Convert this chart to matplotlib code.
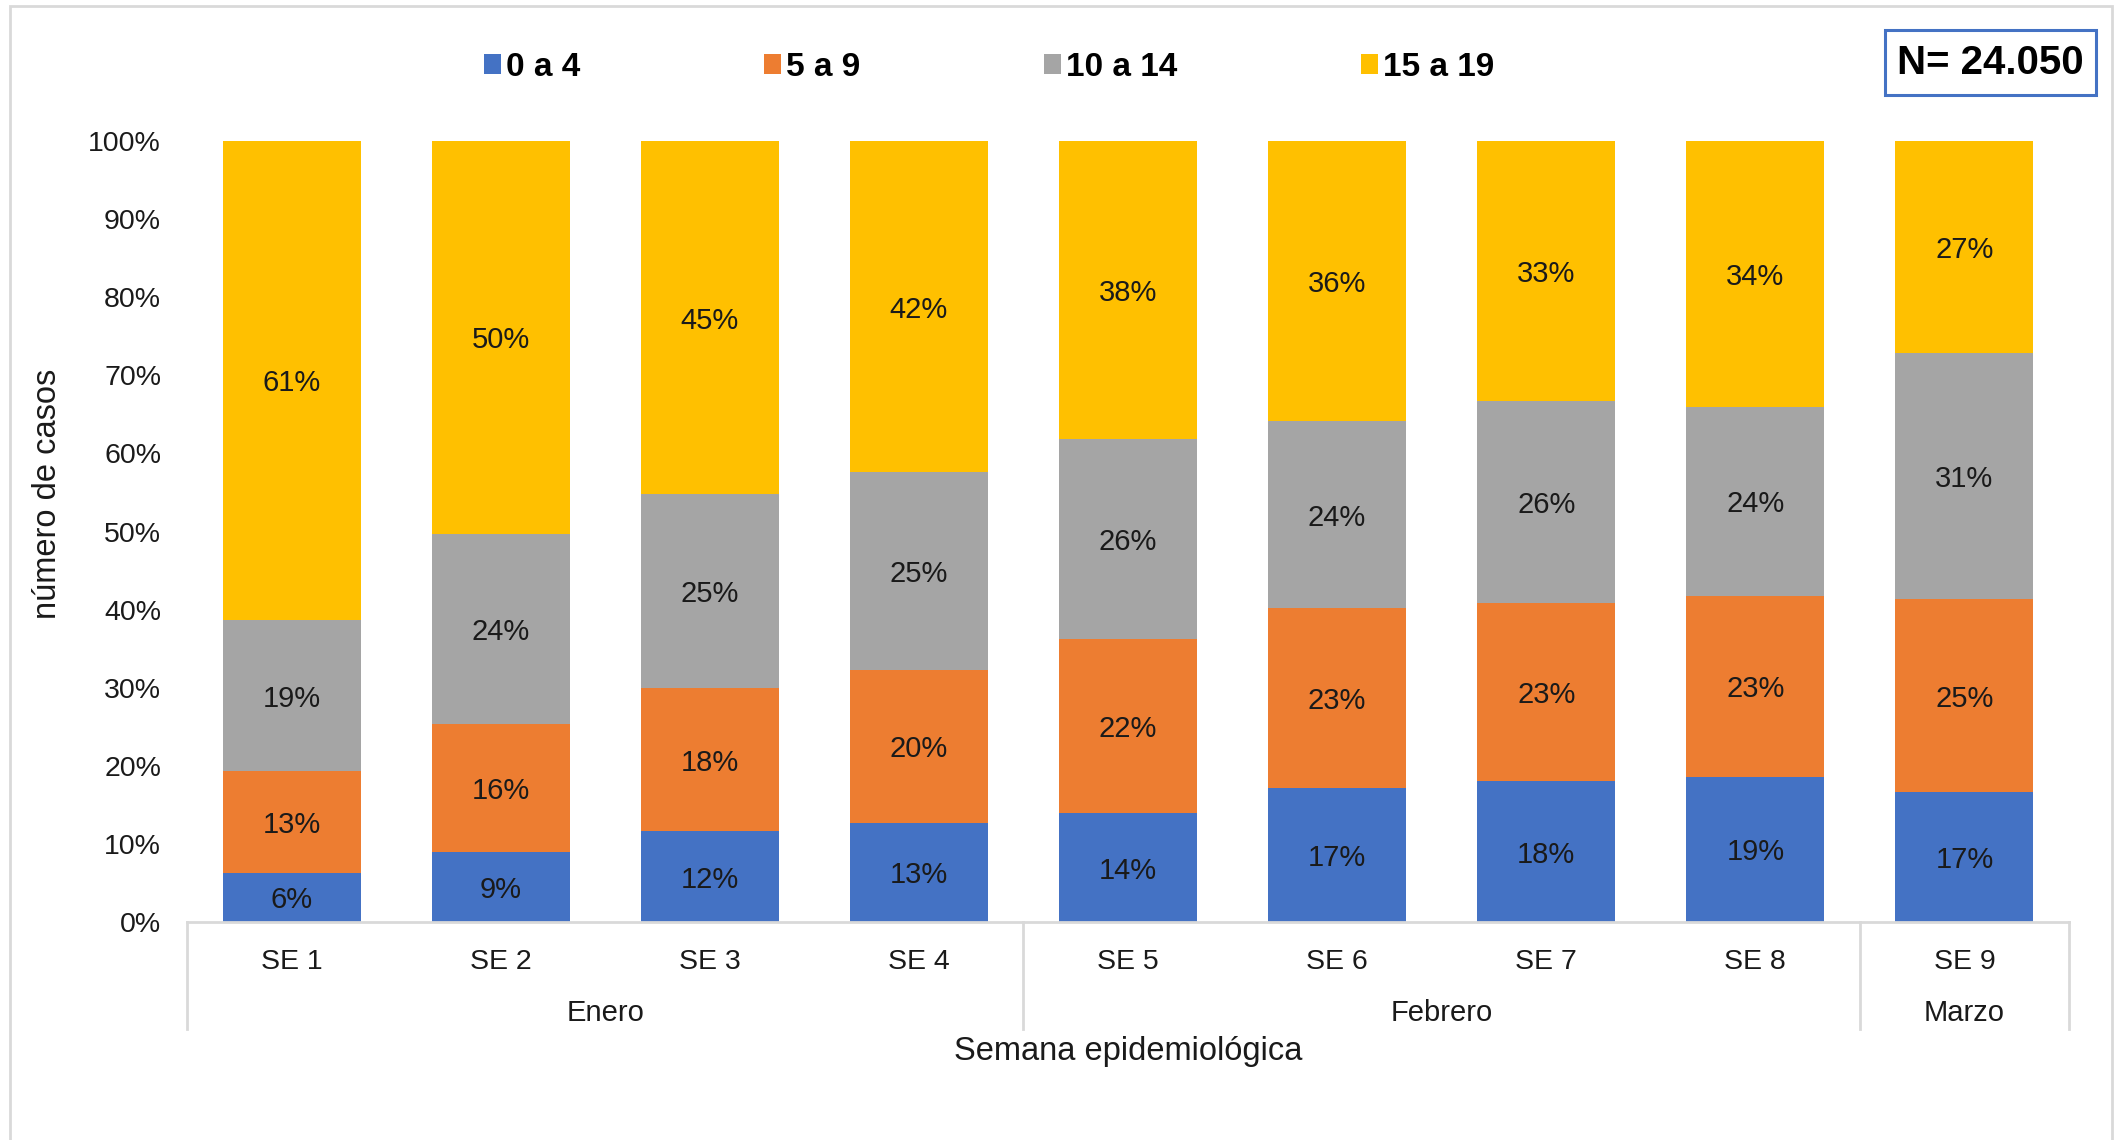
import numpy as np
import matplotlib
matplotlib.use("Agg")
import matplotlib.pyplot as plt
from matplotlib.patches import Rectangle, Patch

plt.rcParams['font.family'] = ['Liberation Sans', 'DejaVu Sans']

# data (percent of cases per epidemiological week)
semanas = ["SE 1", "SE 2", "SE 3", "SE 4", "SE 5", "SE 6", "SE 7", "SE 8", "SE 9"]
meses = ["Enero", "Febrero", "Marzo"]
semanas_por_mes = [4, 4, 1]
grupos = ["0 a 4", "5 a 9", "10 a 14", "15 a 19"]
g_0_4 = [6.3, 8.9, 11.6, 12.7, 13.9, 17.2, 18.0, 18.6, 16.6]
g_5_9 = [13.0, 16.4, 18.4, 19.6, 22.3, 23.0, 22.9, 23.2, 24.8]
g_10_14 = [19.4, 24.4, 24.8, 25.3, 25.6, 23.9, 25.8, 24.1, 31.4]
g_15_19 = [61.3, 50.3, 45.2, 42.4, 38.2, 35.9, 33.3, 34.1, 27.2]
total_n = "N= 24.050"

colores = ['#4472C4', '#ED7D31', '#A5A5A5', '#FFC000']
series = [g_0_4, g_5_9, g_10_14, g_15_19]

W, H = 2123, 1140
fig = plt.figure(figsize=(W / 100, H / 100), dpi=100)
ax = fig.add_axes([187 / W, 1 - 922 / H, (2069 - 187) / W, (922 - 141) / H])

x = np.arange(len(semanas))
bottom = np.zeros(len(semanas))
for vals, col, name in zip(series, colores, grupos):
    vals = np.array(vals) / 100
    ax.bar(x, vals, width=0.66, bottom=bottom, color=col, label=name)
    for xi, b, v in zip(x, bottom, vals):
        ax.text(xi, b + v / 2, f"{v * 100:.0f}%", ha='center', va='center_baseline',
                fontsize=21, color='#1a1a1a')
    bottom += vals

ax.set_xlim(-0.5, len(semanas) - 0.5)
ax.set_ylim(0, 1)
ax.set_yticks(np.arange(0, 1.01, 0.1))
ax.set_yticklabels([f"{int(round(t * 100))}%" for t in np.arange(0, 1.01, 0.1)])
ax.tick_params(axis='y', length=0, pad=18.7, labelsize=20.5, labelcolor='#1a1a1a')
ax.set_xticks(x)
ax.set_xticklabels(semanas)
ax.tick_params(axis='x', length=0, pad=19.5, labelsize=20.5, labelcolor='#1a1a1a')
for s in ['top', 'right', 'left']:
    ax.spines[s].set_visible(False)
ax.spines['bottom'].set_color('#D9D9D9')
ax.spines['bottom'].set_linewidth(2)

# month grouping
trans = ax.get_xaxis_transform()
edges = np.concatenate([[0], np.cumsum(semanas_por_mes)]) - 0.5
for e in edges:
    ax.plot([e, e], [0, -0.137], transform=trans, color='#D9D9D9', lw=2, clip_on=False)
for m, a, b in zip(meses, edges[:-1], edges[1:]):
    ax.text((a + b) / 2, -0.117, m, transform=trans, ha='center', va='center',
            fontsize=21, color='#1a1a1a')

ax.text(0.5, -0.166, "Semana epidemiológica", transform=ax.transAxes, ha='center',
        va='center', fontsize=23.5, color='#1a1a1a')
fig.text(47 / W, 1 - 494 / H, "número de casos", rotation=90, ha='center', va='center',
         fontsize=23.5, color='#1a1a1a')

handles = [Patch(facecolor=c, label=g) for c, g in zip(colores, grupos)]
fig.legend(handles=handles, loc='center', bbox_to_anchor=(989 / W, 1 - 67 / H), ncol=4,
           frameon=False, prop={'weight': 'bold', 'size': 24}, handlelength=0.52,
           handleheight=0.55, handletextpad=0.15, columnspacing=5.5)

# N box
fig.patches.append(Rectangle((1885 / W, 1 - 95 / H), 211 / W, 65 / H, transform=fig.transFigure,
                             fill=False, edgecolor='#4472C4', lw=2.2))
fig.text(1990 / W, 1 - 63 / H, total_n, ha='center', va='center', fontsize=29,
         fontweight='bold', color='black')

# outer frame
fig.patches.append(Rectangle((10 / W, -0.05), 2102 / W, 1.05 - 6 / H, transform=fig.transFigure,
                             fill=False, edgecolor='#D9D9D9', lw=2, clip_on=False))

fig.savefig("out.png", dpi=100)
